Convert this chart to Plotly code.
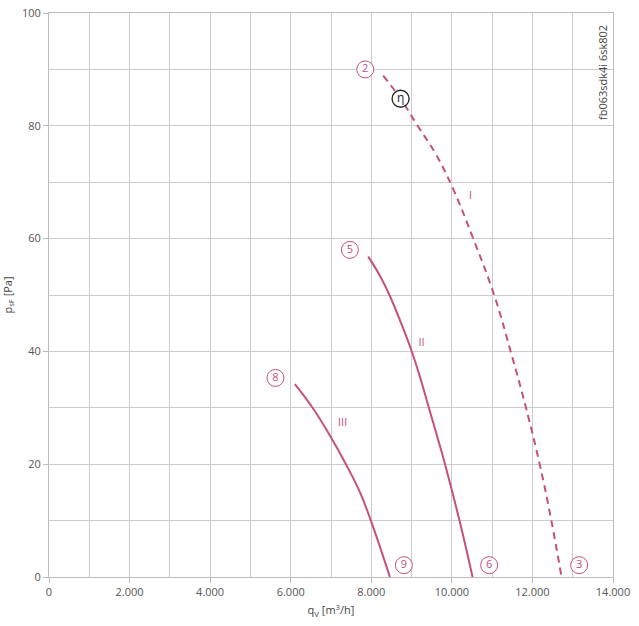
import plotly.graph_objects as go

# Curve data (q in m3/h, p in Pa)
q_I = [8295, 8727, 9150, 9600, 10020, 10530, 11050, 11460, 11840, 12180, 12470, 12722]
p_I = [88.9, 84.8, 80, 75, 69, 60, 50, 40, 30, 20, 10, 0]
q_II = [7923, 8200, 8450, 8730, 8990, 9220, 9430, 9830, 10190, 10514]
p_II = [56.8, 53.6, 50, 45.2, 40.3, 35.2, 30, 20, 10, 0]
q_III = [6104, 6543, 6980, 7370, 7720, 7990, 8462]
p_III = [34.2, 30, 25, 20, 15, 10, 0]

# Circled point labels
mark_q = [7850, 7469, 5620, 8809, 10926, 13160]
mark_p = [90, 58, 35.3, 2.1, 2.1, 2.1]
mark_txt = ["2", "5", "8", "9", "6", "3"]
eta_q = [8727]
eta_p = [84.8]

roman_q = [10464, 9248, 7288]
roman_p = [67.5, 41.4, 27.2]
roman_txt = ["I", "II", "III"]

x_ticks = [0, 2000, 4000, 6000, 8000, 10000, 12000, 14000]
x_ticklabels = ["0", "2.000", "4.000", "6.000", "8.000", "10.000", "12.000", "14.000"]
y_ticks = [0, 20, 40, 60, 80, 100]

PINK = "#c4507f"
FONT = "Open Sans"

fig = go.Figure()
fig.add_trace(go.Scatter(x=q_I, y=p_I, mode="lines", line=dict(color=PINK, width=2, dash="7px,5px", shape="spline", smoothing=1.2), hoverinfo="skip"))
fig.add_trace(go.Scatter(x=q_II, y=p_II, mode="lines", line=dict(color=PINK, width=2, shape="spline", smoothing=1.2), hoverinfo="skip"))
fig.add_trace(go.Scatter(x=q_III, y=p_III, mode="lines", line=dict(color=PINK, width=2, shape="spline", smoothing=1.2), hoverinfo="skip"))
fig.add_trace(go.Scatter(x=mark_q, y=mark_p, mode="markers+text", text=mark_txt, textposition="middle center",
                         textfont=dict(color=PINK, size=11, family=FONT),
                         marker=dict(symbol="circle", size=17, color="white", line=dict(color=PINK, width=1)), hoverinfo="skip"))
fig.add_trace(go.Scatter(x=eta_q, y=eta_p, mode="markers+text", text=["η"], textposition="middle center",
                         textfont=dict(color="#222", size=12, family=FONT),
                         marker=dict(symbol="circle", size=17, color="white", line=dict(color="#222", width=1.3)), hoverinfo="skip"))
fig.add_trace(go.Scatter(x=roman_q, y=roman_p, mode="text", text=roman_txt, textposition="middle center",
                         textfont=dict(color=PINK, size=11, family=FONT), hoverinfo="skip"))

fig.add_annotation(text="fb063sdk4i 6sk802", x=1, xref="paper", y=1, yref="paper", xanchor="right", yanchor="top",
                   xshift=-1, yshift=-10, textangle=-90, showarrow=False, font=dict(color="#444", size=11, family=FONT))

fig.update_layout(
    width=639, height=626, showlegend=False,
    margin=dict(l=49, r=26, t=13, b=49),
    plot_bgcolor="white", paper_bgcolor="white",
    font=dict(family=FONT, color="#555", size=11),
    xaxis=dict(range=[0, 14000], tickvals=x_ticks, ticktext=x_ticklabels, showgrid=True, gridcolor="#cccccc", gridwidth=1,
               minor=dict(dtick=1000, tick0=0, showgrid=True, gridcolor="#cccccc", gridwidth=1),
               showline=True, linecolor="#bbbbbb", linewidth=1, mirror=True, ticks="outside", ticklen=5, tickcolor="#bbbbbb",
               zeroline=False, automargin=False,
               title=dict(text="q<sub>V</sub> [m<sup>3</sup>/h]", font=dict(size=11, color="#444"), standoff=8)),
    yaxis=dict(range=[0, 100], tickvals=y_ticks, showgrid=True, gridcolor="#cccccc", gridwidth=1,
               minor=dict(dtick=10, showgrid=True, gridcolor="#cccccc", gridwidth=1),
               showline=True, linecolor="#bbbbbb", linewidth=1, mirror=True, ticks="outside", ticklen=5, tickcolor="#bbbbbb",
               zeroline=False, automargin=False,
               title=dict(text="p<sub>sF</sub> [Pa]", font=dict(size=11, color="#444"), standoff=8)),
)

fig.write_html("out.html")
